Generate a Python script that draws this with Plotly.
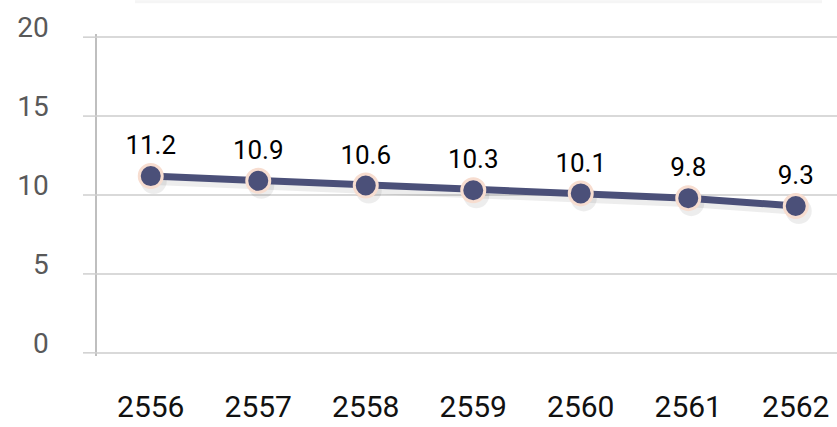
import plotly.graph_objects as go

years = ["2556", "2557", "2558", "2559", "2560", "2561", "2562"]
values = [11.2, 10.9, 10.6, 10.3, 10.1, 9.8, 9.3]
y_ticks = [0, 5, 10, 15, 20]

x_idx = list(range(len(years)))

W, H = 837, 427
unit_y = 15.8          # pixels per y unit
pad_y = 0.2            # keep edge gridlines inside the plot area
grid_top, grid_bottom = 37, 353
ML, MR = 97, 0
MT = grid_top - pad_y * unit_y
MB = (H - grid_bottom) - pad_y * unit_y
plot_w = W - ML - MR
plot_h = H - MT - MB
band = 107.5
x_max = -0.5 + plot_w / band
stub_px = 14
y_lo, y_hi = -pad_y, 20 + pad_y

# subtle drop shadow derived from the data
shadow_dx = 3 / band
shadow_dy = 5 / unit_y

fig = go.Figure()
fig.add_trace(go.Scatter(
    x=[i + shadow_dx for i in x_idx],
    y=[v - shadow_dy for v in values],
    mode="lines+markers",
    line=dict(color="rgba(0,0,0,0.07)", width=8),
    marker=dict(size=26, color="rgba(0,0,0,0.07)"),
    hoverinfo="skip",
    showlegend=False,
))
fig.add_trace(go.Scatter(
    x=x_idx,
    y=values,
    mode="lines+markers+text",
    text=[f"{v:g}" for v in values],
    textposition="top center",
    textfont=dict(family="Roboto, sans-serif", size=26, color="#000000"),
    line=dict(color="#4b5079", width=7),
    marker=dict(size=23, color="#4b5079", line=dict(color="#f7ddd0", width=3)),
    showlegend=False,
))

shapes = [
    dict(type="rect", xref="paper", yref="paper",
         x0=(135 - ML) / plot_w, x1=(822 - ML) / plot_w,
         y0=1 + (MT - 3) / plot_h, y1=1 + MT / plot_h,
         fillcolor="#f5f5f5", line=dict(width=0), layer="below"),
]
# short tick stubs to the left of the y axis, one per y tick
for t in y_ticks:
    yp = (t - y_lo) / (y_hi - y_lo)
    shapes.append(dict(type="line", xref="paper", yref="paper",
                       x0=-stub_px / plot_w, x1=0, y0=yp, y1=yp,
                       line=dict(color="#cfcfcf", width=1.5)))

fig.update_layout(
    width=W, height=H,
    margin=dict(l=ML, r=MR, t=MT, b=MB, pad=0, autoexpand=False),
    paper_bgcolor="white",
    plot_bgcolor="white",
    xaxis=dict(
        automargin=False,
        range=[-0.5, x_max],
        tickmode="array",
        tickvals=x_idx,
        ticktext=years,
        showgrid=False,
        zeroline=False,
        showline=False,
        ticks="",
        tickfont=dict(family="Roboto, sans-serif", size=30, color="#111111"),
        ticklabelstandoff=30,
    ),
    yaxis=dict(
        automargin=False,
        range=[y_lo, y_hi],
        tickmode="array",
        tickvals=y_ticks,
        ticktext=[str(t) for t in y_ticks],
        showgrid=True,
        gridcolor="#d9d9d9",
        gridwidth=1.5,
        zeroline=False,
        showline=True,
        linecolor="#bfbfbf",
        linewidth=1.5,
        ticks="",
        tickfont=dict(family="Roboto, sans-serif", size=28, color="#595959"),
        ticklabelstandoff=27 + stub_px,
        ticklabelshift=-10,
    ),
    shapes=shapes,
)

fig.write_html("out.html")
